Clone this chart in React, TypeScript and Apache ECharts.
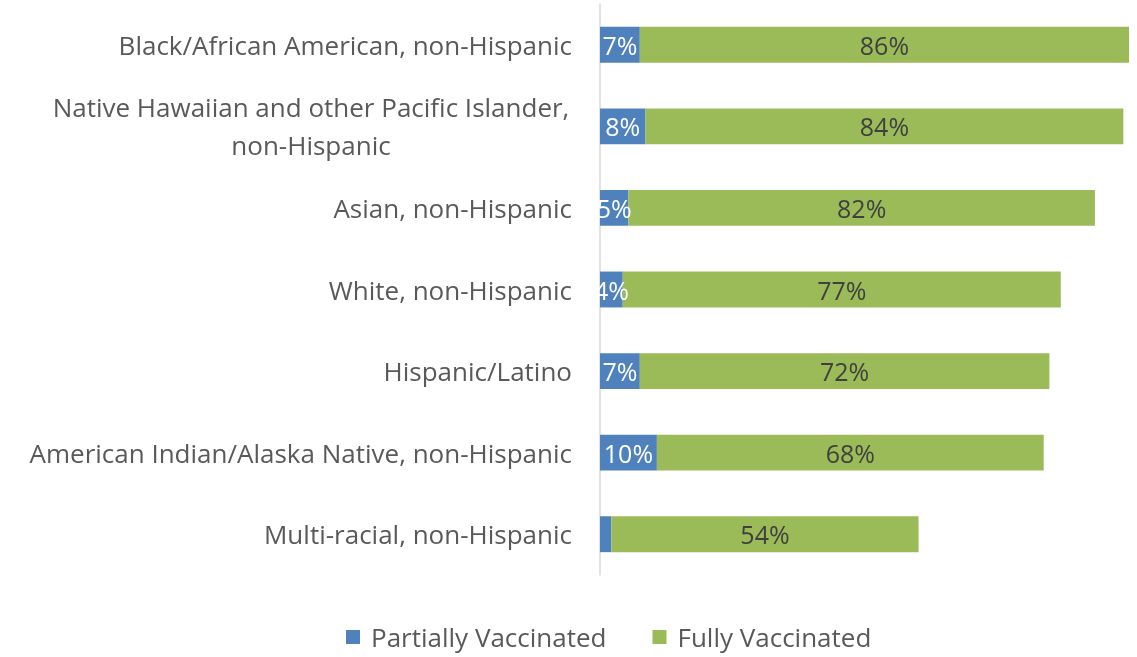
import React, { useEffect, useRef } from "react";
import * as echarts from "echarts";

const categories = [
  "Black/African American, non-Hispanic",
  "Native Hawaiian and other Pacific Islander,\nnon-Hispanic",
  "Asian, non-Hispanic",
  "White, non-Hispanic",
  "Hispanic/Latino",
  "American Indian/Alaska Native, non-Hispanic",
  "Multi-racial, non-Hispanic",
];
const partiallyVaccinated = [7, 8, 5, 4, 7, 10, 2];
const fullyVaccinated = [86, 84, 82, 77, 72, 68, 54];
const seriesNames = ["Partially Vaccinated", "Fully Vaccinated"];

const FONT = "Open Sans";

export default function App() {
  const ref = useRef<HTMLDivElement>(null);
  useEffect(() => {
    if (!ref.current) return;
    const chart = echarts.init(ref.current, null, { renderer: "svg" });
    chart.setOption({
      animation: false,
      textStyle: { fontFamily: FONT },
      grid: { left: 600, right: 0, top: 4, bottom: 82 },
      legend: {
        bottom: 2,
        left: 341,
        itemWidth: 14,
        itemHeight: 14,
        itemGap: 46,
        icon: "rect",
        textStyle: {
          fontSize: 26,
          color: "#595959",
          fontFamily: FONT,
          padding: [0, 0, 0, 6],
        },
        data: seriesNames,
      },
      xAxis: {
        type: "value",
        min: 0,
        max: 94.4,
        show: false,
      },
      yAxis: {
        type: "category",
        inverse: true,
        data: categories,
        axisLine: { show: true, lineStyle: { color: "#D9D9D9", width: 1.5 } },
        axisTick: { show: false },
        axisLabel: {
          margin: 28,
          color: "#595959",
          fontSize: 26,
          fontFamily: FONT,
          formatter: (v: string) => {
            if (v.indexOf("\n") >= 0) {
              const parts = v.split("\n");
              return parts.map((p) => "{c|" + p + "}").join("\n");
            }
            return v;
          },
          rich: {
            c: {
              width: 522,
              align: "center",
              lineHeight: 38,
              fontSize: 26,
              color: "#595959",
              fontFamily: FONT,
            },
          },
        },
      },
      series: [
        {
          name: seriesNames[0],
          type: "bar",
          stack: "total",
          barCategoryGap: "56%",
          itemStyle: { color: "#4F81BD" },
          label: {
            show: true,
            position: "inside",
            color: "#FFFFFF",
            fontSize: 25,
            fontFamily: FONT,
            formatter: (p: any) => (p.value >= 3 ? p.value + "%" : ""),
          },
          data: partiallyVaccinated,
        },
        {
          name: seriesNames[1],
          type: "bar",
          stack: "total",
          barCategoryGap: "56%",
          itemStyle: { color: "#9BBB59" },
          label: {
            show: true,
            position: "inside",
            color: "#404040",
            fontSize: 25,
            fontFamily: FONT,
            formatter: (p: any) => p.value + "%",
          },
          data: fullyVaccinated,
        },
      ],
    });
    return () => chart.dispose();
  }, []);
  return (
    <div
      ref={ref}
      style={{ position: "fixed", left: 0, top: 0, width: 1137, height: 657 }}
    />
  );
}
